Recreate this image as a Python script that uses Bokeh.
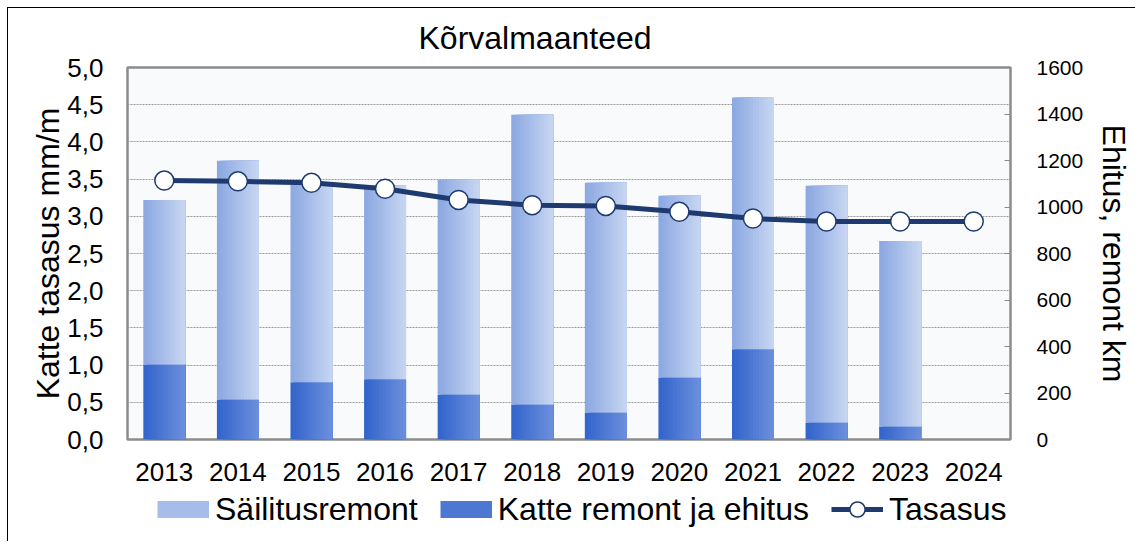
from bokeh.plotting import figure
from bokeh.layouts import column
from bokeh.models import (ColumnDataSource, Range1d, LinearAxis, FixedTicker, Legend, LegendItem,
                          FactorRange)
from bokeh.transform import dodge
from bokeh.embed import file_html
from bokeh.resources import INLINE

# ---- data ----
years = ["2013", "2014", "2015", "2016", "2017", "2018", "2019", "2020", "2021", "2022", "2023", "2024"]
katte_remont = [323, 172, 246, 259, 194, 151, 116, 267, 388, 73, 56, 0]        # km
sailitusremont = [707, 1027, 854, 832, 923, 1246, 988, 781, 1083, 1018, 798, 0]  # km
tasasus = [3.48, 3.47, 3.45, 3.37, 3.22, 3.15, 3.14, 3.06, 2.97, 2.93, 2.93, 2.93]  # mm/m
left_ticks = [0, 0.5, 1.0, 1.5, 2.0, 2.5, 3.0, 3.5, 4.0, 4.5, 5.0]
right_ticks = [0, 200, 400, 600, 800, 1000, 1200, 1400, 1600]

FONT = "Liberation Sans"

total = [a + b for a, b in zip(katte_remont, sailitusremont)]
src = ColumnDataSource(dict(year=years, idx=list(range(len(years))), katte=katte_remont,
                            total=total, zero=[0] * len(years), tas=tasasus))

W = 1135
p = figure(x_range=FactorRange(*years), y_range=Range1d(0, 5), width=W, height=489,
           output_backend="svg", toolbar_location=None,
           min_border_left=127, min_border_right=120, min_border_top=67, min_border_bottom=50)
p.extra_y_ranges = {"km": Range1d(0, 1600)}
p.border_fill_alpha = 0
p.background_fill_color = "#f9fafc"
p.outline_line_color = "#8c8c8c"
p.outline_line_width = 2.5

# title
p.title.text = "Kõrvalmaanteed"
p.title.text_font = FONT
p.title.text_font_size = "32px"
p.title.text_font_style = "normal"
p.title.text_color = "black"
p.title.align = "left"
p.title.offset = 291
p.title.standoff = 24

# grid
p.xgrid.grid_line_color = None
p.ygrid.grid_line_color = "#9a9a9a"
p.ygrid.grid_line_dash = "2 1"
p.ygrid.grid_line_width = 1
p.ygrid.ticker = FixedTicker(ticks=left_ticks)

# left axis
ya = p.yaxis[0]
ya.ticker = FixedTicker(ticks=left_ticks)
ya.major_label_overrides = {t: f"{t:.1f}".replace(".", ",") for t in left_ticks}
ya.major_label_text_font = FONT
ya.major_label_text_font_size = "26px"
ya.major_label_text_color = "black"
ya.major_tick_line_color = None
ya.minor_tick_line_color = None
ya.axis_line_color = None
ya.major_label_standoff = 18
ya.axis_label = "Katte tasasus mm/m"
ya.axis_label_text_font = FONT
ya.axis_label_text_font_size = "32px"
ya.axis_label_text_font_style = "normal"
ya.axis_label_text_color = "black"
ya.axis_label_standoff = -2

# x axis
xa = p.xaxis[0]
xa.major_label_text_font = FONT
xa.major_label_text_font_size = "26px"
xa.major_label_text_color = "black"
xa.major_tick_line_color = None
xa.axis_line_color = None
xa.major_label_standoff = 17

# right axis
ra = LinearAxis(y_range_name="km", ticker=FixedTicker(ticks=right_ticks))
ra.major_label_text_font = FONT
ra.major_label_text_font_size = "21px"
ra.major_label_text_color = "black"
ra.major_tick_in = 6
ra.major_tick_out = 0
ra.major_tick_line_color = "#8c8c8c"
ra.minor_tick_line_color = None
ra.axis_line_color = None
ra.major_label_standoff = 26
ra.axis_label = "Ehitus, remont km"
ra.axis_label_text_font = FONT
ra.axis_label_text_font_size = "32px"
ra.axis_label_text_font_style = "normal"
ra.axis_label_text_color = "black"
ra.axis_label_standoff = 10
p.add_layout(ra, "right")


def mix(c0, c1, t):
    a = [int(c0[i:i + 2], 16) for i in (1, 3, 5)]
    b = [int(c1[i:i + 2], 16) for i in (1, 3, 5)]
    return "#" + "".join(f"{round(x + (y - x) * t):02x}" for x, y in zip(a, b))


BW = 0.57
N = 14
light0, light1 = "#8aa7e1", "#c8d6f2"
dark0, dark1 = "#3163cb", "#6d90dd"
for i in range(N):
    left = -BW / 2 + i * BW / N
    right = BW / 2
    c = (left + right) / 2
    w = right - left
    t = (i + 0.5) / N
    p.vbar(x=dodge("year", c, range=p.x_range), width=w, bottom="zero", top="katte",
           fill_color=mix(dark0, dark1, t), line_color=None, y_range_name="km", source=src)
    p.vbar(x=dodge("year", c, range=p.x_range), width=w, bottom="katte", top="total",
           fill_color=mix(light0, light1, t), line_color=None, y_range_name="km", source=src)

NAVY = "#1f3a6f"
p.line(x="year", y="tas", source=src, line_color=NAVY, line_width=5)
p.scatter(x="year", y="tas", source=src, size=19, marker="circle",
          fill_color="white", line_color=NAVY, line_width=1.5)

# ---- legend strip (separate figure below; its renderers fall outside its range) ----
LH = 52
lf = figure(width=W, height=LH, x_range=Range1d(0, 1), y_range=Range1d(0, 1),
            output_backend="svg", toolbar_location=None, min_border=0,
            x_axis_type=None, y_axis_type=None, outline_line_color=None)
lf.background_fill_alpha = 0
lf.border_fill_alpha = 0
lf.xgrid.visible = False
lf.ygrid.visible = False
r_light = lf.line(x="idx", y="total", source=src, line_width=17, line_color=mix(light0, light1, 0.45))
r_dark = lf.line(x="idx", y="katte", source=src, line_width=17, line_color=mix(dark0, dark1, 0.45))
r_ln = lf.line(x="idx", y="tas", source=src, line_color=NAVY, line_width=5)
r_sc = lf.scatter(x="idx", y="tas", source=src, size=19, marker="circle",
                  fill_color="white", line_color=NAVY, line_width=1.5)

leg = Legend(items=[LegendItem(label="Säilitusremont", renderers=[r_light]),
                    LegendItem(label="Katte remont ja ehitus", renderers=[r_dark]),
                    LegendItem(label="Tasasus", renderers=[r_ln, r_sc])],
             location=(30, 13), orientation="horizontal", glyph_width=52, glyph_height=38,
             label_standoff=6, spacing=22, padding=0, margin=0,
             border_line_color=None, background_fill_alpha=0,
             label_text_font=FONT, label_text_font_size="32px", label_text_color="black")
lf.add_layout(leg, "center")

lay = column(p, lf, spacing=0)
lay.styles = {
    "background-color": "white",
    "background-image": "linear-gradient(#000, #000), linear-gradient(#000, #000)",
    "background-size": "1px 100%, 100% 1px",
    "background-position": "7px 7px, 7px 7px",
    "background-repeat": "no-repeat",
}

open("out.html", "w").write(file_html(lay, INLINE))
